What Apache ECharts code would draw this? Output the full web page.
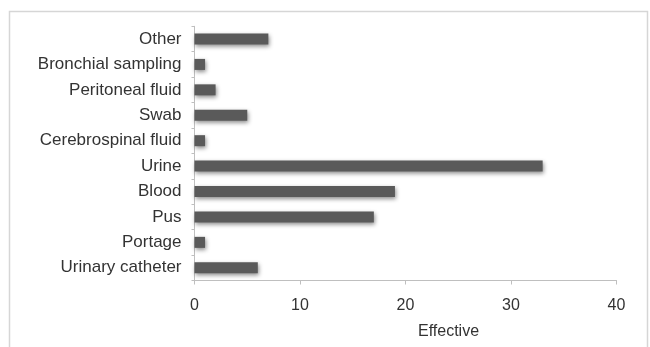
<!DOCTYPE html>
<html>
<head>
<meta charset="utf-8">
<script src="https://cdn.jsdelivr.net/npm/echarts@6/dist/echarts.min.js"></script>
<style>
html,body{margin:0;padding:0;background:#fff;}
#c{width:650px;height:347px;}
</style>
</head>
<body>
<div id="c"></div>
<script>
const categories = ["Urinary catheter","Portage","Pus","Blood","Urine","Cerebrospinal fluid","Swab","Peritoneal fluid","Bronchial sampling","Other"];
const values = [6, 1, 17, 19, 33, 1, 5, 2, 1, 7];
const xTicks = [0, 10, 20, 30, 40];
const axisName = "Effective";

const chart = echarts.init(document.getElementById('c'), null, {renderer:'canvas'});
chart.setOption({
  animation:false,
  backgroundColor:'#fff',
  graphic:[{type:'rect', shape:{x:9.5,y:11.5,width:638,height:400}, style:{fill:'none', stroke:'#d6d6d6', lineWidth:1.5}, silent:true}],
  grid:{left:194.5, right:33.5, top:26.3, bottom:66.5, containLabel:false},
  xAxis:{
    type:'value', min:xTicks[0], max:xTicks[xTicks.length-1], interval:10,
    axisLine:{show:true, lineStyle:{color:'#bfbfbf', width:1}},
    axisTick:{show:true, length:4, lineStyle:{color:'#bfbfbf'}},
    splitLine:{show:false},
    axisLabel:{margin:17, color:'#333', fontSize:16, fontFamily:'Liberation Sans, Arial, sans-serif'},
    name:axisName, nameLocation:'middle', nameGap:43,
    nameTextStyle:{color:'#333', fontSize:16, fontFamily:'Liberation Sans, Arial, sans-serif', padding:[0,0,0,86]}
  },
  yAxis:{
    type:'category', data:categories,
    axisLine:{show:true, lineStyle:{color:'#bfbfbf', width:1}},
    axisTick:{show:true, length:3, lineStyle:{color:'#bfbfbf'}},
    axisLabel:{margin:13, color:'#333', fontSize:17, fontFamily:'Liberation Sans, Arial, sans-serif'}
  },
  series:[{
    type:'bar', data:values, barWidth:11,
    itemStyle:{color:'#5a5a5a', shadowColor:'rgba(0,0,0,0.45)', shadowBlur:4, shadowOffsetX:1, shadowOffsetY:2}
  }]
});
</script>
</body>
</html>
